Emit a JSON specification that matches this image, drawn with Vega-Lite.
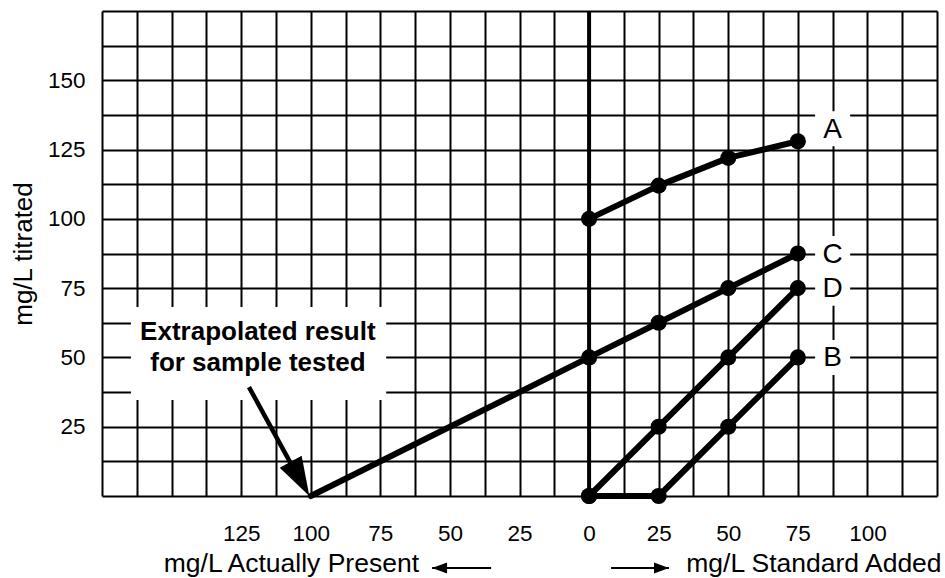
{
  "$schema": "https://vega.github.io/schema/vega-lite/v6.json",
  "width": 835,
  "height": 485,
  "autosize": {"type": "none"},
  "padding": {"left": 102, "top": 11, "right": 8, "bottom": 82},
  "background": "white",
  "config": {
    "view": {"stroke": null},
    "font": "Liberation Sans",
    "axis": {
      "grid": true,
      "gridColor": "#000000",
      "gridWidth": 2,
      "gridOpacity": 1,
      "ticks": false,
      "domain": false,
      "labelColor": "#000000",
      "labelFontSize": 22.5,
      "labelOverlap": false,
      "labelFlush": false,
      "titleColor": "#000000",
      "titleFontWeight": "normal",
      "titleFontSize": 26
    }
  },
  "datasets": {
    "lines": [
      {"s": "A", "o": 1, "x": 0, "y": 100, "pt": true},
      {"s": "A", "o": 2, "x": 25, "y": 112, "pt": true},
      {"s": "A", "o": 3, "x": 50, "y": 122, "pt": true},
      {"s": "A", "o": 4, "x": 75, "y": 128, "pt": true},
      {"s": "C", "o": 0, "x": -100, "y": 0, "pt": false},
      {"s": "C", "o": 1, "x": 0, "y": 50, "pt": true},
      {"s": "C", "o": 2, "x": 25, "y": 62.5, "pt": true},
      {"s": "C", "o": 3, "x": 50, "y": 75, "pt": true},
      {"s": "C", "o": 4, "x": 75, "y": 87.5, "pt": true},
      {"s": "D", "o": 1, "x": 0, "y": 0, "pt": true},
      {"s": "D", "o": 2, "x": 25, "y": 25, "pt": true},
      {"s": "D", "o": 3, "x": 50, "y": 50, "pt": true},
      {"s": "D", "o": 4, "x": 75, "y": 75, "pt": true},
      {"s": "B", "o": 1, "x": 0, "y": 0, "pt": true},
      {"s": "B", "o": 2, "x": 25, "y": 0, "pt": true},
      {"s": "B", "o": 3, "x": 50, "y": 25, "pt": true},
      {"s": "B", "o": 4, "x": 75, "y": 50, "pt": true}
    ],
    "letters": [
      {"label": "A", "x": 87.5, "y": 132.5},
      {"label": "C", "x": 87.5, "y": 87.5},
      {"label": "D", "x": 87.5, "y": 75},
      {"label": "B", "x": 87.5, "y": 50}
    ],
    "zero": [{"x": 0, "y": 0, "x2": 0, "y2": 175}],
    "box": [{"x": -164.6, "x2": -72.9, "y": 34.6, "y2": 68.2}],
    "note": [
      {"text": "Extrapolated result", "x": -119, "y": 59.2},
      {"text": "for sample tested", "x": -119, "y": 48}
    ],
    "shafts": [
      {"x": -122.2, "y": 39.3, "x2": -106.6, "y2": 10.7, "w": "big"},
      {"x": -56.4, "y": -26, "x2": -35.2, "y2": -26, "w": "small"},
      {"x": 7.9, "y": -26, "x2": 28.7, "y2": -26, "w": "small"}
    ],
    "heads": [
      {"x": -100.5, "y": 0, "h": "big"},
      {"x": -56.4, "y": -26, "h": "left"},
      {"x": 28.7, "y": -26, "h": "right"}
    ],
    "titles": [
      {"text": "mg/L Actually Present", "x": -61.1, "y": -27.5, "side": "left"},
      {"text": "mg/L Standard Added", "x": 34.9, "y": -27.5, "side": "right"}
    ]
  },
  "encoding": {
    "x": {
      "field": "x",
      "type": "quantitative",
      "scale": {"domain": [-175, 125], "nice": false, "zero": false},
      "axis": {
        "values": [-175, -162.5, -150, -137.5, -125, -112.5, -100, -87.5, -75, -62.5, -50, -37.5, -25, -12.5, 0, 12.5, 25, 37.5, 50, 62.5, 75, 87.5, 100, 112.5, 125],
        "labelExpr": "(datum.value % 25 == 0 && datum.value >= -125 && datum.value <= 100) ? ('' + abs(datum.value)) : ''",
        "labelPadding": 26,
        "title": null
      }
    },
    "y": {
      "field": "y",
      "type": "quantitative",
      "scale": {"domain": [0, 175], "nice": false, "zero": false},
      "axis": {
        "values": [0, 12.5, 25, 37.5, 50, 62.5, 75, 87.5, 100, 112.5, 125, 137.5, 150, 162.5, 175],
        "labelExpr": "(datum.value % 25 == 0 && datum.value > 0 && datum.value <= 150) ? ('' + datum.value) : ''",
        "labelPadding": 17,
        "title": "mg/L titrated",
        "titlePadding": 11
      }
    }
  },
  "layer": [
    {
      "data": {"name": "box"},
      "mark": {"type": "rect", "fill": "white", "stroke": null},
      "encoding": {"x2": {"field": "x2"}, "y2": {"field": "y2"}}
    },
    {
      "data": {"name": "letters"},
      "mark": {"type": "point", "shape": "square", "filled": true, "color": "white", "opacity": 1, "size": 1225, "strokeWidth": 0}
    },
    {
      "data": {"name": "zero"},
      "mark": {"type": "rule", "color": "black", "strokeWidth": 4},
      "encoding": {"x2": {"field": "x2"}, "y2": {"field": "y2"}}
    },
    {
      "data": {"name": "lines"},
      "mark": {"type": "line", "color": "black", "strokeWidth": 6, "strokeCap": "round", "strokeJoin": "round"},
      "encoding": {"detail": {"field": "s"}, "order": {"field": "o", "type": "quantitative"}}
    },
    {
      "data": {"name": "lines"},
      "transform": [{"filter": "datum.pt"}],
      "mark": {"type": "point", "filled": true, "color": "black", "opacity": 1, "size": 260}
    },
    {
      "data": {"name": "letters"},
      "mark": {"type": "text", "fontSize": 28, "color": "black", "baseline": "middle", "align": "center", "dy": 1},
      "encoding": {"text": {"field": "label"}}
    },
    {
      "data": {"name": "note"},
      "mark": {"type": "text", "fontSize": 26, "fontWeight": "bold", "color": "black", "baseline": "middle", "align": "center"},
      "encoding": {"text": {"field": "text"}}
    },
    {
      "data": {"name": "shafts"},
      "mark": {"type": "rule", "color": "black", "clip": false},
      "encoding": {
        "x2": {"field": "x2"},
        "y2": {"field": "y2"},
        "strokeWidth": {"field": "w", "type": "nominal", "scale": {"domain": ["big", "small"], "range": [4.5, 2]}, "legend": null}
      }
    },
    {
      "data": {"name": "heads"},
      "transform": [{"filter": "datum.h == 'big'"}],
      "mark": {"type": "point", "filled": true, "color": "black", "opacity": 1, "size": 2500, "strokeWidth": 0, "clip": false, "shape": "M0,0L-0.308,-1.61L-1.186,-1.13Z"}
    },
    {
      "data": {"name": "heads"},
      "transform": [{"filter": "datum.h == 'left'"}],
      "mark": {"type": "point", "filled": true, "color": "black", "opacity": 1, "size": 484, "strokeWidth": 0, "clip": false, "shape": "M0,0L1.36,-0.5L1.36,0.5Z"}
    },
    {
      "data": {"name": "heads"},
      "transform": [{"filter": "datum.h == 'right'"}],
      "mark": {"type": "point", "filled": true, "color": "black", "opacity": 1, "size": 484, "strokeWidth": 0, "clip": false, "shape": "M0,0L-1.36,-0.5L-1.36,0.5Z"}
    },
    {
      "data": {"name": "titles"},
      "transform": [{"filter": "datum.side == 'left'"}],
      "mark": {"type": "text", "fontSize": 26.5, "color": "black", "baseline": "alphabetic", "align": "right", "clip": false},
      "encoding": {"text": {"field": "text"}}
    },
    {
      "data": {"name": "titles"},
      "transform": [{"filter": "datum.side == 'right'"}],
      "mark": {"type": "text", "fontSize": 26.5, "color": "black", "baseline": "alphabetic", "align": "left", "clip": false},
      "encoding": {"text": {"field": "text"}}
    }
  ]
}
